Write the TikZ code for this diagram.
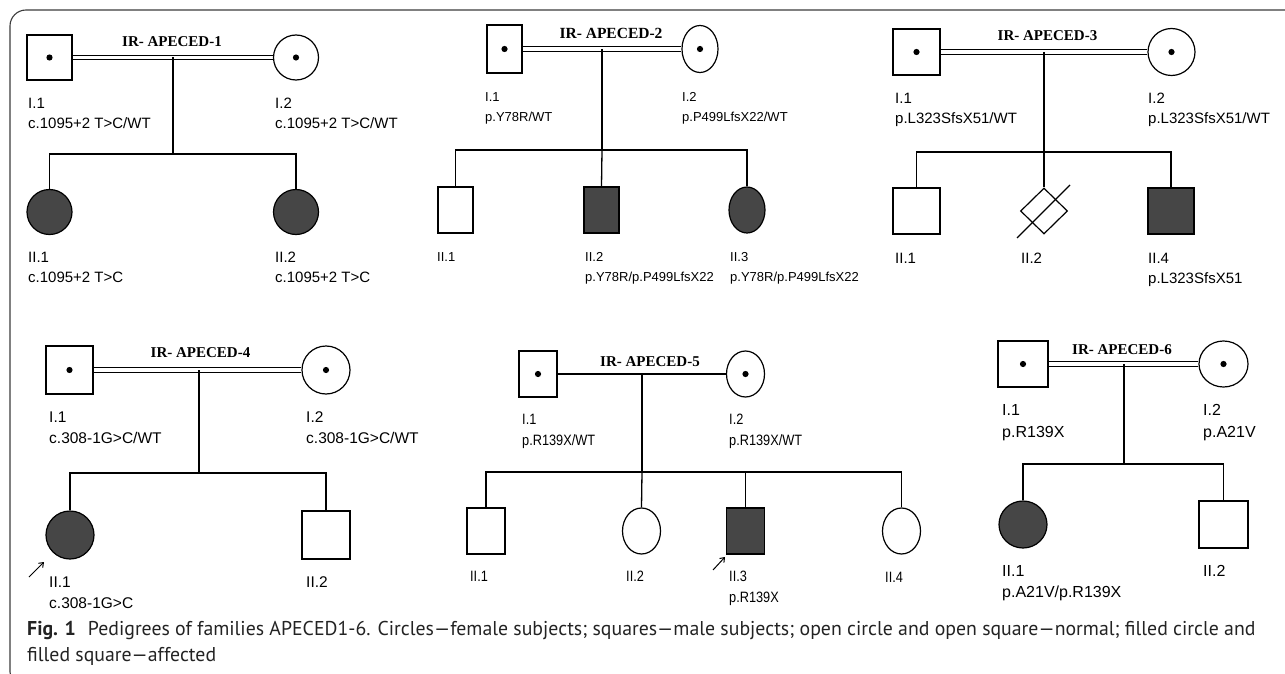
\documentclass[tikz,border=0pt]{standalone}
\usepackage{fontspec}
\setmainfont{Liberation Sans}
\newfontfamily\serifb{Liberation Serif}
\newfontfamily\narrowsf[FakeStretch=0.85]{Liberation Sans}
\newfontfamily\capfont[FakeStretch=0.99]{PT Sans}
\usetikzlibrary{shapes.geometric,arrows.meta,backgrounds}
\definecolor{affgray}{RGB}{70,70,70}
\definecolor{framegray}{RGB}{60,60,60}
\definecolor{capcol}{RGB}{35,35,35}
\begin{document}
\begin{tikzpicture}[x=1pt,y=-1pt,
  male/.style={draw, rectangle, fill=white, inner sep=0pt, line width=1.2pt},
  female/.style={draw, ellipse, fill=white, inner sep=0pt, line width=1.2pt},
  abort/.style={draw, diamond, fill=white, inner sep=0pt, line width=1.2pt},
  aff/.style={fill=affgray},
  carrier/.style={path picture={\fill[black] (path picture bounding box.center) circle[radius=3.1pt];}},
  mate/.style={double, double distance=3.6pt, line width=1pt},
  conn/.style={line width=1.3pt},
  lab/.style={anchor=base west, inner sep=0pt},
  la/.style={lab, font=\fontsize{15}{15}\selectfont},
  lb/.style={lab, font=\fontsize{13}{13}\selectfont},
  lc/.style={lab, font=\fontsize{15}{15}\selectfont},
  ld/.style={lab, font=\fontsize{15.5}{15.5}\selectfont},
  le/.style={lab, font=\narrowsf\fontsize{15}{15}\selectfont},
  lf/.style={lab, font=\fontsize{16}{16}\selectfont},
  ttl/.style={anchor=base, inner sep=0pt, font=\serifb\bfseries\fontsize{15}{15}\selectfont},
  prob/.style={line width=1pt, -{Straight Barb[length=4pt,width=6pt]}},
  boxframe/.style={draw=framegray, line width=1.1pt},
  figcap/.style={anchor=base west, inner sep=0pt, text=capcol, font=\capfont\fontsize{20}{20}\selectfont}
]
\useasboundingbox (0,0) rectangle (1285,674);

% frame
\draw[boxframe] (1290,10) [rounded corners=16pt]-- (10,10) [rounded corners=6pt]-- (10,678) -- (60,678);

% ---------------- Family 1 ----------------
\node[male, carrier, minimum width=45pt, minimum height=45pt] (f1a) at (49.5,57.5) {};
\node[female, carrier, minimum width=45pt, minimum height=45pt] (f1b) at (296,57.5) {};
\node[female, aff, minimum width=45pt, minimum height=45pt] (f1c) at (49.5,212) {};
\node[female, aff, minimum width=45pt, minimum height=45pt] (f1d) at (296,212) {};
\coordinate (f1m) at (173,57.5);
\coordinate (f1s) at (173,154);
\node[ttl] (f1t) at (172,47) {IR- APECED-1};
\node[la] (f1a1) at (28,108.4) {I.1};
\node[la] (f1a2) at (28,128.4) {c.1095+2 T>C/WT};
\node[la] (f1b1) at (275,108.4) {I.2};
\node[la] (f1b2) at (275,128.4) {c.1095+2 T>C/WT};
\node[la] (f1c1) at (28,262.4) {II.1};
\node[la] (f1c2) at (28,282.4) {c.1095+2 T>C};
\node[la] (f1d1) at (275,262.4) {II.2};
\node[la] (f1d2) at (275,282.4) {c.1095+2 T>C};

% ---------------- Family 2 ----------------
\node[male, carrier, minimum width=35pt, minimum height=48pt] (f2a) at (504.5,49) {};
\node[female, carrier, minimum width=36pt, minimum height=47pt] (f2b) at (700,49) {};
\node[male, minimum width=35pt, minimum height=46pt] (f2c) at (455.5,210) {};
\node[male, aff, minimum width=35pt, minimum height=46pt] (f2d) at (601.5,210) {};
\node[female, aff, minimum width=36pt, minimum height=46pt] (f2e) at (747,210) {};
\coordinate (f2m) at (602,49);
\coordinate (f2s) at (602,150);
\node[ttl, font=\serifb\bfseries\fontsize{15.5}{15.5}\selectfont] (f2t) at (611,38.4) {IR- APECED-2};
\node[lb] (f2a1) at (485,101.7) {I.1};
\node[lb] (f2a2) at (485,121.7) {p.Y78R/WT};
\node[lb] (f2b1) at (682,101.7) {I.2};
\node[lb] (f2b2) at (682,121.7) {p.P499LfsX22/WT};
\node[lb] (f2c1) at (437,261.7) {II.1};
\node[lb] (f2d1) at (585,261.7) {II.2};
\node[lb] (f2d2) at (585,281.7) {p.Y78R/p.P499LfsX22};
\node[lb] (f2e1) at (730,261.7) {II.3};
\node[lb] (f2e2) at (730,281.7) {p.Y78R/p.P499LfsX22};

% ---------------- Family 3 ----------------
\node[male, carrier, minimum width=47pt, minimum height=46pt] (f3a) at (916.5,52) {};
\node[female, carrier, minimum width=47pt, minimum height=47pt] (f3b) at (1171.5,52) {};
\node[male, minimum width=47pt, minimum height=46pt] (f3c) at (916.5,211) {};
\node[abort, minimum width=47pt, minimum height=46pt] (f3d) at (1044,211) {};
\node[male, aff, minimum width=46pt, minimum height=46pt] (f3e) at (1171,211) {};
\coordinate (f3m) at (1044,52);
\coordinate (f3s) at (1044,152);
\coordinate (f3x1) at (1017,238);
\coordinate (f3x2) at (1070,185);
\node[ttl] (f3t) at (1047.5,41) {IR- APECED-3};
\node[lc] (f3a1) at (895,103.4) {I.1};
\node[lc] (f3a2) at (895,123.4) {p.L323SfsX51/WT};
\node[lc] (f3b1) at (1148,103.4) {I.2};
\node[lc] (f3b2) at (1148,123.4) {p.L323SfsX51/WT};
\node[lc] (f3c1) at (895,263.4) {II.1};
\node[lc] (f3d1) at (1021,263.4) {II.2};
\node[lc] (f3e1) at (1148,263.4) {II.4};
\node[lc] (f3e2) at (1148,283.4) {p.L323SfsX51};

% ---------------- Family 4 ----------------
\node[male, carrier, minimum width=47pt, minimum height=48pt] (f4a) at (69.5,370) {};
\node[female, carrier, minimum width=48pt, minimum height=48pt] (f4b) at (326,370) {};
\node[female, aff, minimum width=48pt, minimum height=48pt] (f4c) at (70,535) {};
\node[male, minimum width=48pt, minimum height=48pt] (f4d) at (326,535) {};
\coordinate (f4m) at (199,370);
\coordinate (f4s) at (199,473);
\coordinate (f4p) at (29,577);
\coordinate (f4q) at (44,562);
\node[ttl] (f4t) at (200.5,357) {IR- APECED-4};
\node[ld] (f4a1) at (49,422.6) {I.1};
\node[ld] (f4a2) at (49,443.6) {c.308-1G>C/WT};
\node[ld] (f4b1) at (306,422.6) {I.2};
\node[ld] (f4b2) at (306,443.6) {c.308-1G>C/WT};
\node[ld] (f4c1) at (49,587.6) {II.1};
\node[ld] (f4c2) at (49,608.6) {c.308-1G>C};
\node[ld] (f4d1) at (306,587.6) {II.2};

% ---------------- Family 5 ----------------
\node[male, carrier, minimum width=38pt, minimum height=46pt] (f5a) at (538,374) {};
\node[female, carrier, minimum width=38pt, minimum height=46pt] (f5b) at (745.5,374) {};
\node[male, minimum width=38pt, minimum height=46pt] (f5c) at (486,531) {};
\node[female, minimum width=38pt, minimum height=46pt] (f5d) at (641.5,531) {};
\node[male, aff, minimum width=38pt, minimum height=46pt] (f5e) at (745.5,531) {};
\node[female, minimum width=38pt, minimum height=46pt] (f5f) at (901.5,531) {};
\coordinate (f5m) at (642,374);
\coordinate (f5s) at (642,472);
\coordinate (f5p) at (713,570);
\coordinate (f5q) at (725,557);
\node[ttl] (f5t) at (650,366) {IR- APECED-5};
\node[le] (f5a1) at (522,424.4) {I.1};
\node[le] (f5a2) at (522,445.4) {p.R139X/WT};
\node[le] (f5b1) at (729,424.4) {I.2};
\node[le] (f5b2) at (729,445.4) {p.R139X/WT};
\node[le] (f5c1) at (470,581.4) {II.1};
\node[le] (f5d1) at (626,581.4) {II.2};
\node[le] (f5e1) at (729,581.4) {II.3};
\node[le] (f5e2) at (729,602.4) {p.R139X};
\node[le] (f5f1) at (885,582.4) {II.4};

% ---------------- Family 6 ----------------
\node[male, carrier, minimum width=50pt, minimum height=46pt] (f6a) at (1023,364) {};
\node[female, carrier, minimum width=49pt, minimum height=46pt] (f6b) at (1223.5,364) {};
\node[female, aff, minimum width=48pt, minimum height=47pt] (f6c) at (1023,524.5) {};
\node[male, minimum width=49pt, minimum height=47pt] (f6d) at (1223.5,524.5) {};
\coordinate (f6m) at (1124,364);
\coordinate (f6s) at (1124,464);
\node[ttl] (f6t) at (1122,354) {IR- APECED-6};
\node[lf] (f6a1) at (1002,415.8) {I.1};
\node[lf] (f6a2) at (1002,437.8) {p.R139X};
\node[lf] (f6b1) at (1203,415.8) {I.2};
\node[lf] (f6b2) at (1203,437.8) {p.A21V};
\node[lf] (f6c1) at (1002,576.8) {II.1};
\node[lf] (f6c2) at (1002,597.8) {p.A21V/p.R139X};
\node[lf] (f6d1) at (1203,576.8) {II.2};

% ---------------- connectors ----------------
\begin{pgfonlayer}{background}
\draw[mate] (f1a.east) -- (f1b.west);
\draw[conn] (f1m) -- (f1s);
\draw[conn] (f1c.north) |- (f1s) -| (f1d.north);

\draw[mate] (f2a.east) -- (f2b.west);
\draw[conn] (f2m) -- (f2s);
\draw[conn] (f2c.north) |- (f2s) -| (f2e.north);
\draw[conn] (f2s) -- (f2d.north);

\draw[mate] (f3a.east) -- (f3b.west);
\draw[conn] (f3m) -- (f3s);
\draw[conn] (f3c.north) |- (f3s) -| (f3e.north);
\draw[conn] (f3s) -- (f3d.north);

\draw[mate] (f4a.east) -- (f4b.west);
\draw[conn] (f4m) -- (f4s);
\draw[conn] (f4c.north) |- (f4s) -| (f4d.north);

\draw[conn] (f5a.east) -- (f5b.west);
\draw[conn] (f5m) -- (f5s);
\draw[conn] (f5c.north) |- (f5s) -| (f5f.north);
\draw[conn] (f5s) -- (f5d.north);
\draw[conn] (f5e.north) -- (f5e.north |- f5s);

\draw[mate] (f6a.east) -- (f6b.west);
\draw[conn] (f6m) -- (f6s);
\draw[conn] (f6c.north) |- (f6s) -| (f6d.north);
\end{pgfonlayer}

\draw[line width=1.1pt] (f3x1) -- (f3x2);
\draw[prob] (f4p) -- (f4q);
\draw[prob] (f5p) -- (f5q);

% ---------------- caption ----------------
\node[figcap] (cap1) at (27,635) {\textbf{Fig. 1}\hspace{0.6em}Pedigrees of families APECED1-6. Circles—female subjects; squares—male subjects; open circle and open square—normal; filled circle and};
\node[figcap] (cap2) at (27,661) {filled square—affected};
\end{tikzpicture}
\end{document}
